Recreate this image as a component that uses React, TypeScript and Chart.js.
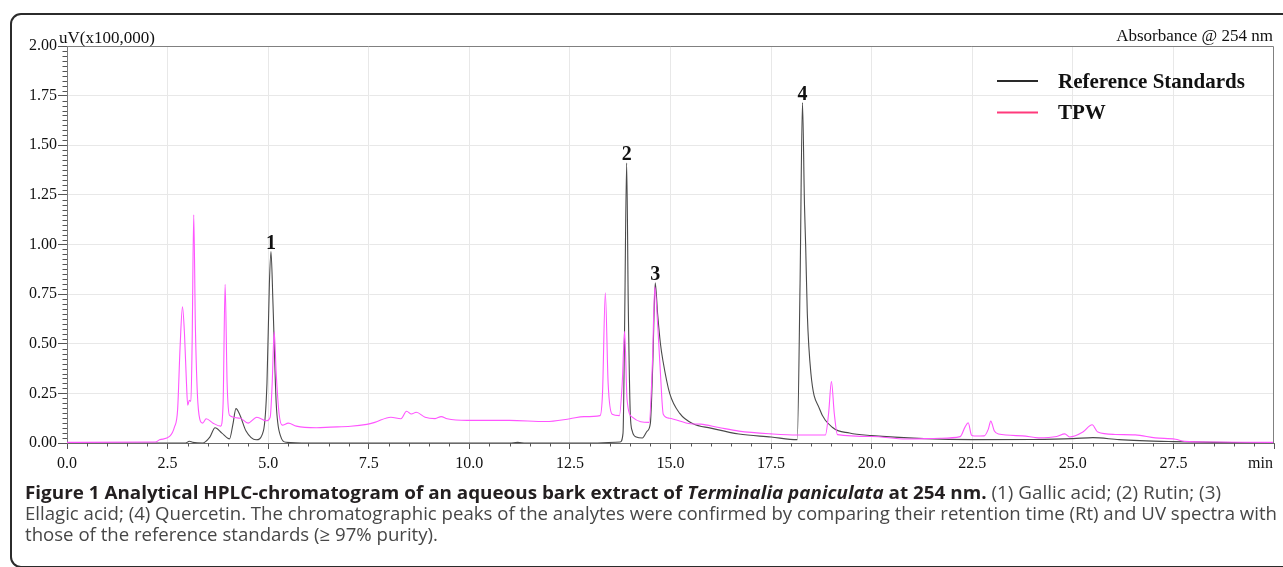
import React, { useEffect, useLayoutEffect, useRef } from 'react';
import { Chart, registerables } from 'chart.js';

Chart.register(...registerables);

// ---- data ----
const seriesNames = ['Reference Standards', 'TPW'];

const refTimes = [
  0, 2.95, 3.04, 3.12, 3.37, 3.55, 3.68, 3.85, 4.04, 4.12, 4.2, 4.3, 4.45, 4.7,
  4.88, 4.97, 5.03, 5.07, 5.12, 5.2, 5.3, 5.45, 6.0, 8.0, 11.0, 11.2, 11.4, 13.0,
  13.75, 13.82, 13.86, 13.91, 13.95, 14.0, 14.05, 14.15, 14.3, 14.42, 14.5, 14.56,
  14.62, 14.68, 14.75, 14.81, 14.98, 15.23, 15.56, 16.0, 16.7, 17.5, 18.15, 18.22,
  18.28, 18.33, 18.36, 18.4, 18.49, 18.7, 19.03, 19.45, 20.0, 21.3, 22.5, 24.0,
  25.0, 25.5, 26.15, 27.5, 28.5, 30.0,
];
const refValues = [
  0, 0, 0.009, 0.004, 0, 0.03, 0.077, 0.05, 0.021, 0.09, 0.173, 0.14, 0.06, 0.016,
  0.06, 0.3, 0.8, 0.964, 0.7, 0.2, 0.04, 0.004, 0, 0, 0, 0.003, 0, 0,
  0.005, 0.05, 0.6, 1.41, 0.7, 0.15, 0.06, 0.03, 0.025, 0.06, 0.1, 0.4,
  0.807, 0.65, 0.5, 0.417, 0.25, 0.149, 0.097, 0.075, 0.045, 0.03, 0.017, 0.8,
  1.715, 1.2, 0.99, 0.654, 0.35, 0.174, 0.078, 0.05, 0.037, 0.022, 0.017, 0.018,
  0.022, 0.027, 0.017, 0.007, 0.003, 0,
];

const tpwTimes = [
  0, 2.2, 2.3, 2.55, 2.67, 2.75, 2.81, 2.87, 2.92, 2.97, 3.0, 3.04, 3.08, 3.11,
  3.15, 3.19, 3.24, 3.3, 3.37, 3.46, 3.63, 3.82, 3.88, 3.93, 3.98, 4.04, 4.3, 4.5,
  4.72, 4.95, 5.05, 5.1, 5.15, 5.2, 5.27, 5.35, 5.5, 5.7, 6.2, 6.55, 7.05, 7.45,
  7.65, 8.05, 8.3, 8.44, 8.56, 8.68, 8.9, 9.15, 9.3, 9.45, 9.95, 11.0, 11.9, 12.5,
  12.85, 13.25, 13.31, 13.38, 13.45, 13.55, 13.73, 13.8, 13.86, 13.92, 14.05,
  14.47, 14.55, 14.61, 14.68, 14.75, 14.82, 14.97, 15.5, 15.75, 16.2, 16.7, 17.5,
  18.15, 18.85, 18.93, 19.0, 19.07, 19.15, 20.0, 20.85, 21.7, 22.2, 22.32, 22.4,
  22.48, 22.55, 22.8, 22.9, 22.96, 23.05, 23.15, 23.75, 24.15, 24.6, 24.8, 24.92,
  25.25, 25.48, 25.62, 26.05, 26.55, 27.05, 27.55, 27.78, 28.5, 30.0,
];
const tpwValues = [
  0.003, 0.005, 0.016, 0.033, 0.08, 0.17, 0.48, 0.686, 0.55, 0.3, 0.19, 0.215, 0.21, 0.5,
  1.149, 0.6, 0.25, 0.12, 0.1, 0.122, 0.1, 0.085, 0.2, 0.8, 0.3, 0.139, 0.125, 0.1,
  0.13, 0.112, 0.13, 0.3, 0.56, 0.35, 0.15, 0.09, 0.1, 0.085, 0.077, 0.08, 0.084, 0.094,
  0.104, 0.13, 0.122, 0.16, 0.146, 0.155, 0.13, 0.123, 0.133, 0.122, 0.114, 0.114, 0.108, 0.122,
  0.133, 0.138, 0.25, 0.757, 0.3, 0.145, 0.138, 0.3, 0.563, 0.22, 0.13,
  0.104, 0.4, 0.787, 0.6, 0.35, 0.145, 0.125, 0.097, 0.095, 0.078, 0.06, 0.046,
  0.04, 0.04, 0.15, 0.31, 0.15, 0.042, 0.033, 0.02, 0.024, 0.032, 0.08, 0.102,
  0.04, 0.035, 0.036, 0.07, 0.11, 0.06, 0.045, 0.036, 0.026, 0.033, 0.046, 0.03,
  0.055, 0.092, 0.055, 0.043, 0.041, 0.026, 0.019, 0.008, 0.005, 0.003,
];

const peakLabels = ['1', '2', '3', '4'];
const peakTimes = [5.07, 13.91, 14.62, 18.28];

const xMin = 0;
const xMax = 30;
const xMajorStep = 2.5;
const xMinorStep = 0.5;
const yMin = 0;
const yMax = 2;
const yMajorStep = 0.25;
const yMinorStep = 0.025;

const yAxisTitle = 'uV(x100,000)';
const detectorLabel = 'Absorbance @ 254 nm';
const xUnitLabel = 'min';

const captionLine1 = [
  { text: 'Figure 1 Analytical HPLC-chromatogram of an aqueous bark extract of ', bold: true, italic: false },
  { text: 'Terminalia paniculata', bold: true, italic: true },
  { text: ' at 254 nm.', bold: true, italic: false },
  { text: ' (1) Gallic acid; (2) Rutin; (3)', bold: false, italic: false },
];
const captionLine2 =
  'Ellagic acid; (4) Quercetin. The chromatographic peaks of the analytes were confirmed by comparing their retention time (Rt) and UV spectra with';
const captionLine3 = 'those of the reference standards (\u2265 97% purity).';

// ---- styling ----
const SERIF = "'Liberation Serif', 'Times New Roman', serif";
const REF_COLOR = '#4a4a4a';
const TPW_COLOR = '#ff55ff';
const TPW_LEGEND_COLOR = '#ff3a7c';
const GRID_COLOR = '#e8e8e8';
const FRAME_COLOR = '#808080';

const W = 1283;
const H = 567;

const isMultiple = (v: number, step: number) => Math.abs(v / step - Math.round(v / step)) < 1e-6;

const overlayPlugin = {
  id: 'overlay',
  afterDatasetsDraw(chart: any) {
    const { ctx, chartArea: a, scales } = chart;
    const x = scales.x;
    const y = scales.y;
    ctx.save();

    // top and right frame of the plot box
    ctx.strokeStyle = FRAME_COLOR;
    ctx.lineWidth = 1;
    ctx.beginPath();
    const top = Math.round(a.top) + 0.5;
    const right = Math.round(a.right) - 0.5;
    ctx.moveTo(Math.round(a.left), top);
    ctx.lineTo(right, top);
    ctx.lineTo(right, Math.round(a.bottom));
    ctx.stroke();

    // minor ticks
    ctx.strokeStyle = '#555';
    ctx.beginPath();
    const nx = Math.round((xMax - xMin) / xMinorStep);
    for (let i = 0; i <= nx; i++) {
      const v = xMin + i * xMinorStep;
      if (isMultiple(v, xMajorStep)) continue;
      const px = Math.round(x.getPixelForValue(v)) + 0.5;
      ctx.moveTo(px, a.bottom);
      ctx.lineTo(px, a.bottom + 3.5);
    }
    const ny = Math.round((yMax - yMin) / yMinorStep);
    for (let i = 0; i <= ny; i++) {
      const v = yMin + i * yMinorStep;
      if (isMultiple(v, yMajorStep)) continue;
      const py = Math.round(y.getPixelForValue(v)) + 0.5;
      ctx.moveTo(a.left - 4.5, py);
      ctx.lineTo(a.left, py);
    }
    ctx.stroke();

    // peak labels
    ctx.fillStyle = '#111';
    ctx.font = `bold 20px ${SERIF}`;
    ctx.textAlign = 'center';
    ctx.textBaseline = 'alphabetic';
    peakLabels.forEach((lab, i) => {
      let best = 0;
      refTimes.forEach((t, j) => {
        if (Math.abs(t - peakTimes[i]) < Math.abs(refTimes[best] - peakTimes[i])) best = j;
      });
      const px = x.getPixelForValue(refTimes[best]);
      const py = y.getPixelForValue(refValues[best]) - 3;
      ctx.fillText(lab, px, py);
    });

    // titles
    ctx.font = `17px ${SERIF}`;
    ctx.fillStyle = '#111';
    ctx.textAlign = 'left';
    ctx.fillText(yAxisTitle, a.left - 8, a.top - 3);
    ctx.textAlign = 'right';
    ctx.fillText(detectorLabel, a.right - 1, a.top - 5);
    ctx.font = `16px ${SERIF}`;
    ctx.fillText(xUnitLabel, a.right - 1, a.bottom + 25);

    // legend
    const legendColors = ['#2a2a2a', TPW_LEGEND_COLOR];
    const legendX = 997;
    const legendY = [81, 112.5];
    ctx.lineWidth = 2;
    ctx.textAlign = 'left';
    ctx.font = `bold 21px ${SERIF}`;
    seriesNames.forEach((name, i) => {
      ctx.strokeStyle = legendColors[i];
      ctx.beginPath();
      ctx.moveTo(legendX, legendY[i]);
      ctx.lineTo(legendX + 41, legendY[i]);
      ctx.stroke();
      ctx.fillStyle = '#111';
      ctx.fillText(name, legendX + 61, legendY[i] + 6.5);
    });

    ctx.restore();
  },
};

function ChromChart() {
  const canvasRef = useRef<HTMLCanvasElement | null>(null);
  useEffect(() => {
    const canvas = canvasRef.current;
    if (!canvas) return;
    const refData = refTimes.map((t, i) => ({ x: t, y: refValues[i] }));
    const tpwData = tpwTimes.map((t, i) => ({ x: t, y: tpwValues[i] }));
    const chart = new Chart(canvas, {
      type: 'line',
      data: {
        datasets: [
          {
            label: seriesNames[0],
            data: refData,
            borderColor: REF_COLOR,
            borderWidth: 1.1,
            pointRadius: 0,
            cubicInterpolationMode: 'monotone',
            order: 1,
          },
          {
            label: seriesNames[1],
            data: tpwData,
            borderColor: TPW_COLOR,
            borderWidth: 1.1,
            pointRadius: 0,
            cubicInterpolationMode: 'monotone',
            order: 0,
          },
        ],
      },
      options: {
        responsive: false,
        animation: false,
        devicePixelRatio: 1,
        layout: { padding: { top: 46, left: 0, right: 9, bottom: 94 } },
        plugins: { legend: { display: false }, tooltip: { enabled: false } },
        scales: {
          x: {
            type: 'linear',
            min: xMin,
            max: xMax,
            afterFit: (s: any) => {
              s.height = 30;
            },
            border: { color: '#6a6a6a', width: 1 },
            grid: {
              color: (c: any) =>
                c.tick && (c.tick.value === xMin || c.tick.value === xMax) ? 'rgba(0,0,0,0)' : GRID_COLOR,
              tickColor: '#555',
              tickLength: 6,
            },
            ticks: {
              stepSize: xMajorStep,
              autoSkip: false,
              maxRotation: 0,
              padding: 5,
              color: '#111',
              font: { family: SERIF, size: 16 },
              callback: (v: any) => (Number(v) >= xMax ? '' : Number(v).toFixed(1)),
            },
          },
          y: {
            type: 'linear',
            min: yMin,
            max: yMax,
            afterFit: (s: any) => {
              s.width = 67;
            },
            border: { color: '#7a7a7a', width: 1 },
            grid: {
              color: (c: any) =>
                c.tick && (c.tick.value === yMin || c.tick.value === yMax) ? 'rgba(0,0,0,0)' : GRID_COLOR,
              tickColor: '#555',
              tickLength: 9,
            },
            ticks: {
              stepSize: yMajorStep,
              autoSkip: false,
              padding: 1,
              color: '#111',
              font: { family: SERIF, size: 16 },
              callback: (v: any) => Number(v).toFixed(2),
            },
          },
        },
      },
      plugins: [overlayPlugin],
    } as any);
    return () => chart.destroy();
  }, []);
  return (
    <canvas
      ref={canvasRef}
      width={W}
      height={H}
      style={{ position: 'absolute', left: 0, top: 0, width: W, height: H }}
    />
  );
}

const captionTargets = [1196, 1252];

function Caption() {
  const boxRef = useRef<HTMLDivElement | null>(null);
  useLayoutEffect(() => {
    const fit = () => {
      const box = boxRef.current;
      if (!box) return;
      const lines = Array.from(box.querySelectorAll('[data-line]')) as HTMLElement[];
      lines.forEach((el) => (el.style.transform = ''));
      const s1 = captionTargets[0] / lines[0].getBoundingClientRect().width;
      const s2 = captionTargets[1] / lines[1].getBoundingClientRect().width;
      lines[0].style.transform = `scaleX(${s1})`;
      lines[1].style.transform = `scaleX(${s2})`;
      lines[2].style.transform = `scaleX(${s2})`;
    };
    fit();
    if ((document as any).fonts && (document as any).fonts.ready) {
      (document as any).fonts.ready.then(fit);
    }
  }, []);
  const lineStyle: React.CSSProperties = {
    position: 'absolute',
    left: 24.5,
    whiteSpace: 'nowrap',
    transformOrigin: '0 0',
    fontFamily: "'Open Sans', 'Noto Sans', sans-serif",
    fontSize: 18.5,
    lineHeight: '21px',
    color: '#474747',
    display: 'inline-block',
  };
  return (
    <div ref={boxRef}>
      <span data-line="1" style={{ ...lineStyle, top: 481 }}>
        {captionLine1.map((seg, i) => (
          <span
            key={i}
            style={{
              fontWeight: seg.bold ? 700 : 400,
              fontStyle: seg.italic ? 'italic' : 'normal',
              color: seg.bold ? '#231f20' : '#474747',
            }}
          >
            {seg.text}
          </span>
        ))}
      </span>
      <span data-line="2" style={{ ...lineStyle, top: 502 }}>
        {captionLine2}
      </span>
      <span data-line="3" style={{ ...lineStyle, top: 523 }}>
        {captionLine3}
      </span>
    </div>
  );
}

export default function App() {
  return (
    <div
      style={{
        position: 'fixed',
        left: 0,
        top: 0,
        width: W,
        height: H,
        overflow: 'hidden',
        background: '#fff',
      }}
    >
      <div
        style={{
          position: 'absolute',
          left: 10,
          top: 13,
          width: 1300,
          height: 555,
          boxSizing: 'border-box',
          border: '2px solid #2b2b2b',
          borderRadius: 11,
        }}
      />
      <ChromChart />
      <Caption />
    </div>
  );
}
